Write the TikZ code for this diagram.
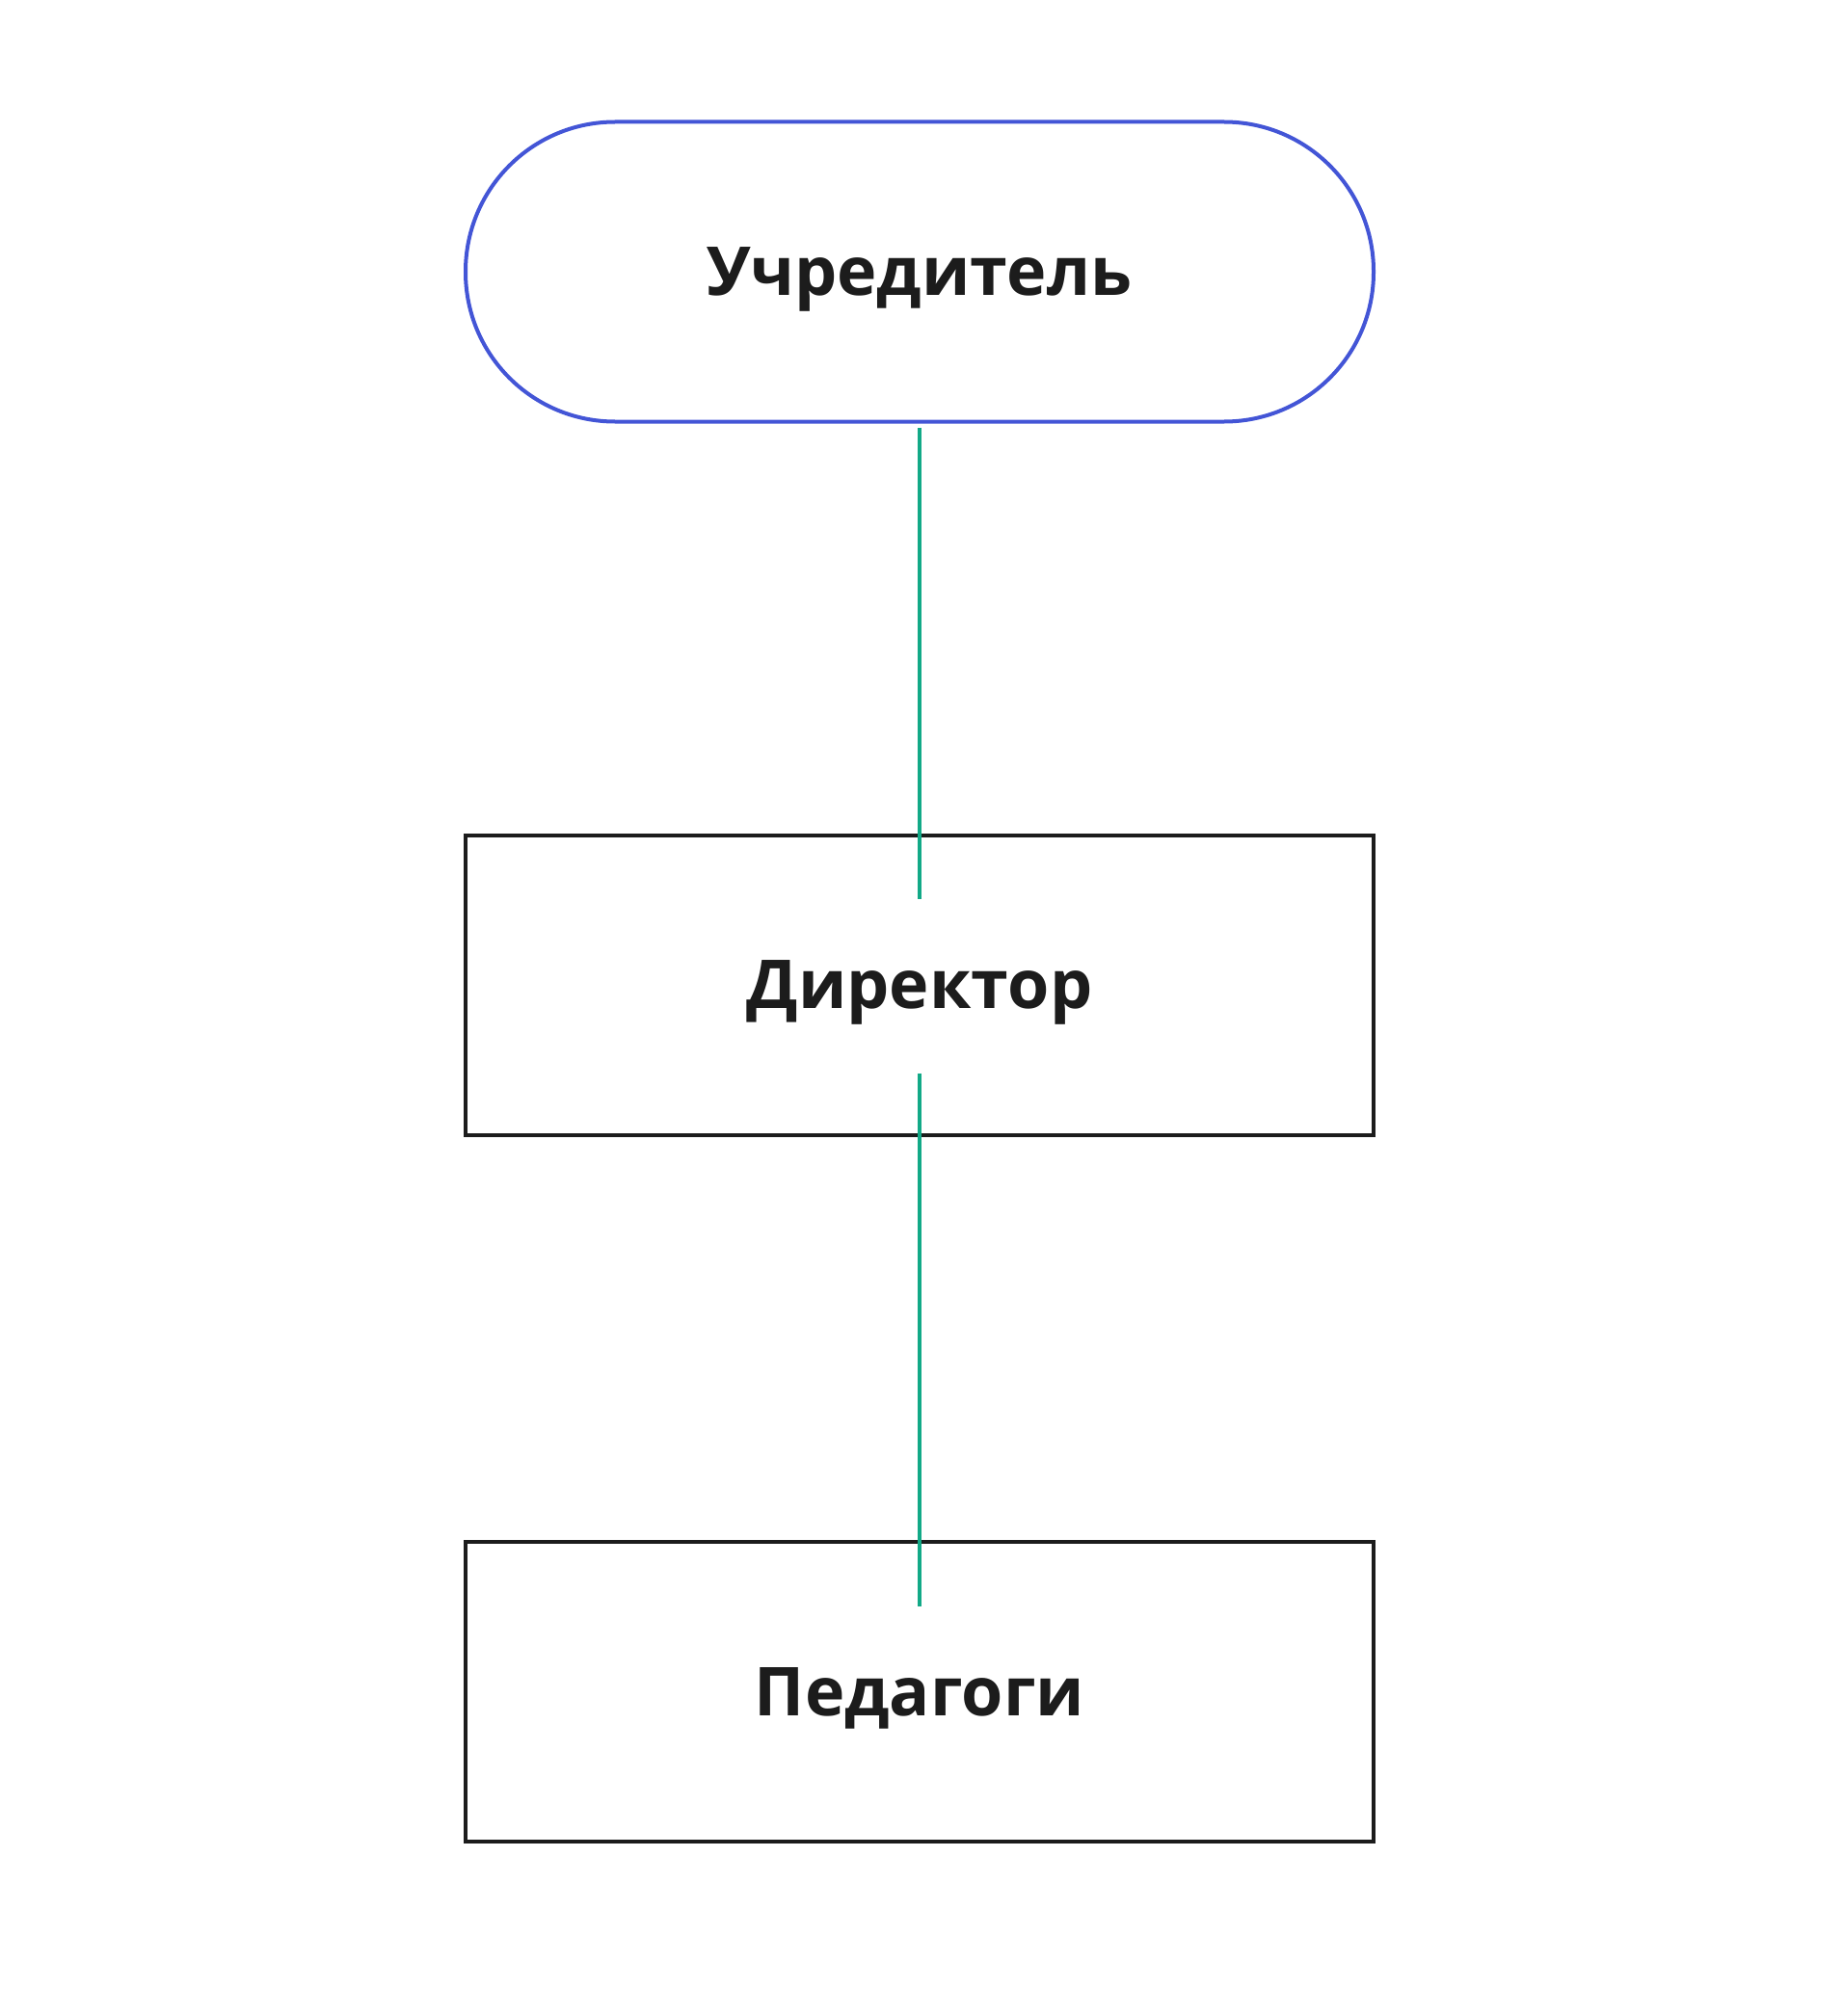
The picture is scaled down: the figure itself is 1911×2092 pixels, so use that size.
\documentclass[tikz,border=0pt]{standalone}
\usepackage{fontspec}
\setmainfont{Open Sans}
\usetikzlibrary{positioning}

\definecolor{founderblue}{HTML}{4355D6}
\definecolor{linkgreen}{HTML}{12A987}
\definecolor{boxblack}{HTML}{1C1C1C}

\begin{document}
\begin{tikzpicture}[x=1pt, y=1pt,
                    font=\fontsize{70}{84}\selectfont\bfseries,
                    text=boxblack,
                    line width=4pt]
    \tikzstyle{unit}=[rectangle, draw=boxblack, minimum width=942pt, minimum height=311pt, inner sep=0pt, text depth=0pt]
    \tikzstyle{founder}=[unit, draw=founderblue, rounded corners=155pt]
    \tikzstyle{link}=[draw=linkgreen, line width=3.6pt]

    \useasboundingbox (0,0) rectangle (1911,-2092);

    \node[founder] (uchreditel) at (954,-282) {Учредитель};
    \node[unit] (direktor) at (954,-1022) {Директор};
    \node[unit] (pedagogi) at (954,-1755) {Педагоги};

    \draw[link, shorten <=4pt, shorten >=-68pt] (uchreditel.south) -- (direktor.north);
    \draw[link, shorten <=-66pt, shorten >=-69pt] (direktor.south) -- (pedagogi.north);
\end{tikzpicture}
\end{document}
